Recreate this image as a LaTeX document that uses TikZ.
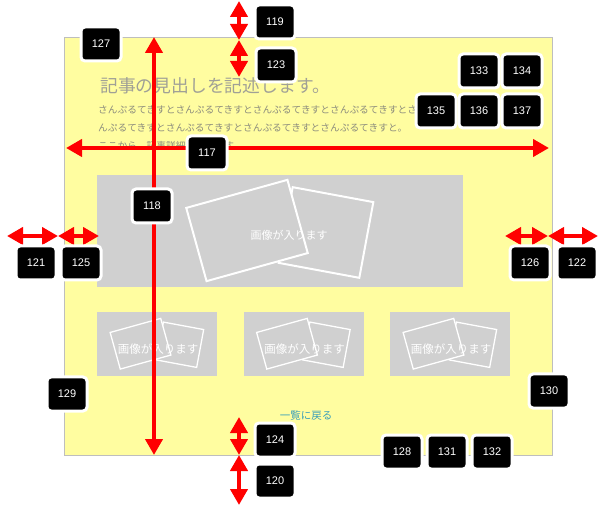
\documentclass[tikz,border=0pt]{standalone}
\usepackage{fontspec}
\setmainfont{Liberation Sans}
\newfontfamily\jp{Noto Sans CJK JP}
\usetikzlibrary{arrows.meta}
\definecolor{panel}{RGB}{255,253,160}
\definecolor{panelborder}{RGB}{190,190,190}
\definecolor{imggray}{RGB}{208,208,208}
\definecolor{headgray}{RGB}{160,160,150}
\definecolor{bodygray}{RGB}{140,140,125}
\definecolor{linkteal}{RGB}{60,160,185}
\definecolor{dimred}{RGB}{255,0,0}
\tikzset{
  lbl/.style={draw=white, fill=black, line width=3pt, rounded corners=4pt,
    minimum width=40pt, minimum height=34pt, inner sep=0pt, text=white,
    font=\fontsize{11}{11}\selectfont},
  dimarrow/.style={draw=dimred, line width=4pt,
    {Triangle[length=16pt,width=17pt]}-{Triangle[length=16pt,width=17pt]}},
  photo/.style={draw=white, fill=imggray, inner sep=0pt},
  bodytxt/.style={anchor=west, inner sep=0pt, text=bodygray, font=\jp\fontsize{9.7}{9.7}\selectfont},
}
\begin{document}
\begin{tikzpicture}[x=1pt,y=-1pt]
\useasboundingbox (0,0) rectangle (605,518);
\fill[white] (0,0) rectangle (605,518);
% panel
\draw[fill=panel, draw=panelborder, line width=1pt] (64,38) rectangle (552,455);
% big image
\fill[imggray] (97,175) rectangle (463,287);
\node[photo, line width=2pt, minimum width=82pt, minimum height=77pt, rotate=-10.5] (bigB) at (326,232.5) {};
\node[photo, line width=2pt, minimum width=105pt, minimum height=76pt, rotate=15.5] (bigF) at (247,230.5) {};
\node[text=white, inner sep=0pt, font=\jp\fontsize{11}{11}\selectfont] (bigT) at (289,235) {画像が入ります};
% small images
\foreach \cx/\n in {157/a,303.5/b,450/c}{
  \fill[imggray] (\cx-60,312) rectangle (\cx+60,376);
  \node[photo, line width=1.3pt, minimum width=41pt, minimum height=38.5pt, rotate=-10.5] (sB\n) at (\cx+23,344.75) {};
  \node[photo, line width=1.3pt, minimum width=52.5pt, minimum height=38pt, rotate=15.5] (sF\n) at (\cx-16.5,343.75) {};
  \node[text=white, inner sep=0pt, font=\jp\fontsize{11.5}{11.5}\selectfont] (sT\n) at (\cx+1,349) {画像が入ります};
}
% texts
\node[anchor=west, inner sep=0pt, text=headgray, font=\jp\fontsize{17.8}{17.8}\selectfont] (head) at (100,86) {記事の見出しを記述します。};
\node[bodytxt] (body1) at (98,110) {さんぷるてきすとさんぷるてきすとさんぷるてきすとさんぷるてきすとさ};
\node[bodytxt] (body2) at (98,128) {んぷるてきすとさんぷるてきすとさんぷるてきすとさんぷるてきすと。};
\node[bodytxt] (body3) at (98,146) {ここから、記事詳細が入ります。};
\node[text=linkteal, inner sep=0pt, font=\jp\fontsize{10.5}{10.5}\selectfont] (back) at (306,416) {一覧に戻る};
% dimension arrows
\coordinate (p119t) at (239,1);
\coordinate (p119b) at (239,40);
\coordinate (p123b) at (239,77);
\coordinate (p117l) at (66,148);
\coordinate (p117r) at (549,148);
\coordinate (p118t) at (154,37);
\coordinate (p118b) at (154,455);
\coordinate (p121l) at (7,236);
\coordinate (p121r) at (58,236);
\coordinate (p125r) at (99,236);
\coordinate (p126l) at (505,236);
\coordinate (p126r) at (548,236);
\coordinate (p122r) at (598,236);
\coordinate (p124t) at (239,417);
\coordinate (p124b) at (239,455);
\coordinate (p120b) at (239,505);
\draw[dimarrow] (p119t) -- (p119b);
\draw[dimarrow] (p119b) -- (p123b);
\draw[dimarrow] (p117l) -- (p117r);
\draw[dimarrow] (p118t) -- (p118b);
\draw[dimarrow] (p121l) -- (p121r);
\draw[dimarrow] (p121r) -- (p125r);
\draw[dimarrow] (p126l) -- (p126r);
\draw[dimarrow] (p126r) -- (p122r);
\draw[dimarrow] (p124t) -- (p124b);
\draw[dimarrow] (p124b) -- (p120b);
% labels
\node[lbl] (l119) at (275,22) {119};
\node[lbl] (l123) at (276,65) {123};
\node[lbl] (l127) at (101,44) {127};
\node[lbl] (l133) at (479,71) {133};
\node[lbl] (l134) at (522,71) {134};
\node[lbl] (l135) at (436,111) {135};
\node[lbl] (l136) at (479,111) {136};
\node[lbl] (l137) at (522,111) {137};
\node[lbl] (l117) at (207,153) {117};
\node[lbl] (l118) at (152,206) {118};
\node[lbl] (l121) at (36,263) {121};
\node[lbl] (l125) at (81,263) {125};
\node[lbl] (l126) at (530,263) {126};
\node[lbl] (l122) at (577,263) {122};
\node[lbl] (l129) at (67,394) {129};
\node[lbl] (l130) at (549,391) {130};
\node[lbl] (l124) at (275,440) {124};
\node[lbl] (l120) at (275,481) {120};
\node[lbl] (l128) at (402,452) {128};
\node[lbl] (l131) at (447,452) {131};
\node[lbl] (l132) at (492,452) {132};
\end{tikzpicture}
\end{document}
